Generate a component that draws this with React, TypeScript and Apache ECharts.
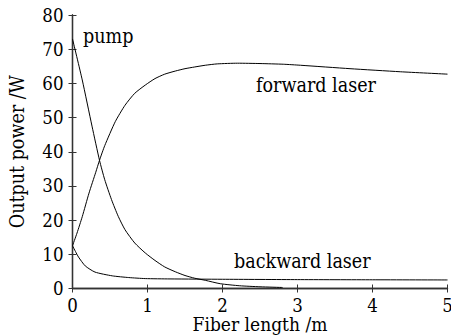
import React, { useEffect, useRef } from "react";
import * as echarts from "echarts";

const pumpX = [0, 0.13, 0.26, 0.36, 0.43, 0.52, 0.61, 0.7, 0.83, 0.97, 1.1, 1.23, 1.37, 1.5, 1.63, 1.77, 1.97, 2.23, 2.5, 2.8];
const pumpY = [73, 61, 47.5, 37.5, 31.8, 26, 21.1, 17.2, 13.3, 10.4, 8.2, 6.3, 4.9, 3.8, 3.0, 2.4, 1.4, 0.8, 0.5, 0.3];

const forwardX = [0, 0.06, 0.13, 0.22, 0.31, 0.36, 0.43, 0.57, 0.7, 0.83, 0.97, 1.1, 1.23, 1.37, 1.5, 1.63, 1.77, 1.93, 2.2, 2.5, 2.81, 3.04, 3.7, 4.37, 5];
const forwardY = [12.5, 16.2, 21, 27.9, 34, 37.5, 41.8, 48.8, 53.6, 57.1, 59.5, 61.4, 62.7, 63.6, 64.3, 64.8, 65.3, 65.7, 65.9, 65.8, 65.6, 65.3, 64.3, 63.4, 62.7];

const backwardX = [0, 0.04, 0.08, 0.17, 0.3, 0.53, 0.75, 0.97, 1.3, 2, 3, 4, 5];
const backwardY = [12.5, 10.8, 9.2, 6.6, 4.8, 3.7, 3.2, 2.9, 2.8, 2.7, 2.6, 2.55, 2.5];

const xTitle = "Fiber length /m";
const yTitle = "Output power /W";
const labels = ["pump", "forward laser", "backward laser"];

const FONT = "'DejaVu Serif Condensed', 'DejaVu Serif', serif";

const zip = (xs: number[], ys: number[]) => xs.map((x, i) => [x, ys[i]]);

export default function App() {
  const ref = useRef<HTMLDivElement>(null);
  useEffect(() => {
    const chart = echarts.init(ref.current!, null, { renderer: "svg" });
    const axisLine = { show: true, lineStyle: { color: "#333", width: 1.3 } };
    const tick = { show: true, inside: true, length: 4, lineStyle: { color: "#333", width: 1 } };
    const lbl = { color: "#000", fontSize: 18.5, fontFamily: FONT };
    const lineStyle = { color: "#000", width: 1 };
    const common = { showSymbol: false, smooth: 0.2, lineStyle };
    chart.setOption({
      animation: false,
      backgroundColor: "#fff",
      grid: { left: 72.5, right: 3.5, top: 15, bottom: 46.5, containLabel: false, outerBoundsMode: "none" },
      xAxis: [
        {
          type: "value", min: 0, max: 5, interval: 1, position: "bottom",
          axisLine, axisTick: tick, splitLine: { show: false },
          axisLabel: { ...lbl, margin: 9, lineHeight: 16 },
          name: xTitle, nameLocation: "middle", nameGap: 27, nameMoveOverlap: false,
          nameTextStyle: { ...lbl, fontSize: 19, lineHeight: 17 },
        },
        {
          type: "value", min: 0, max: 5, interval: 1, position: "top",
          axisLine, axisTick: tick, splitLine: { show: false },
          axisLabel: { show: false },
        },
      ],
      yAxis: [
        {
          type: "value", min: 0, max: 80, interval: 10, position: "left",
          axisLine, axisTick: tick, splitLine: { show: false },
          axisLabel: { ...lbl, margin: 9 },
          name: yTitle, nameLocation: "middle", nameGap: 45, nameMoveOverlap: false,
          nameTextStyle: { ...lbl, fontSize: 19.5 },
        },
        {
          type: "value", min: 0, max: 80, interval: 10, position: "right",
          axisLine, axisTick: tick, splitLine: { show: false },
          axisLabel: { show: false },
        },
      ],
      series: [
        { type: "line", name: "pump", data: zip(pumpX, pumpY), ...common },
        { type: "line", name: "forward", data: zip(forwardX, forwardY), ...common },
        { type: "line", name: "backward", data: zip(backwardX, backwardY), ...common },
      ],
      graphic: [
        { type: "text", left: 83, top: 26, style: { text: labels[0], fill: "#000", font: `19.5px ${FONT}` } },
        { type: "text", left: 256, top: 75, style: { text: labels[1], fill: "#000", font: `19.5px ${FONT}` } },
        { type: "text", left: 234, top: 251, style: { text: labels[2], fill: "#000", font: `19.5px ${FONT}` } },
      ],
    });
    return () => chart.dispose();
  }, []);
  return <div ref={ref} style={{ position: "fixed", left: 0, top: 0, width: 451, height: 335 }} />;
}
